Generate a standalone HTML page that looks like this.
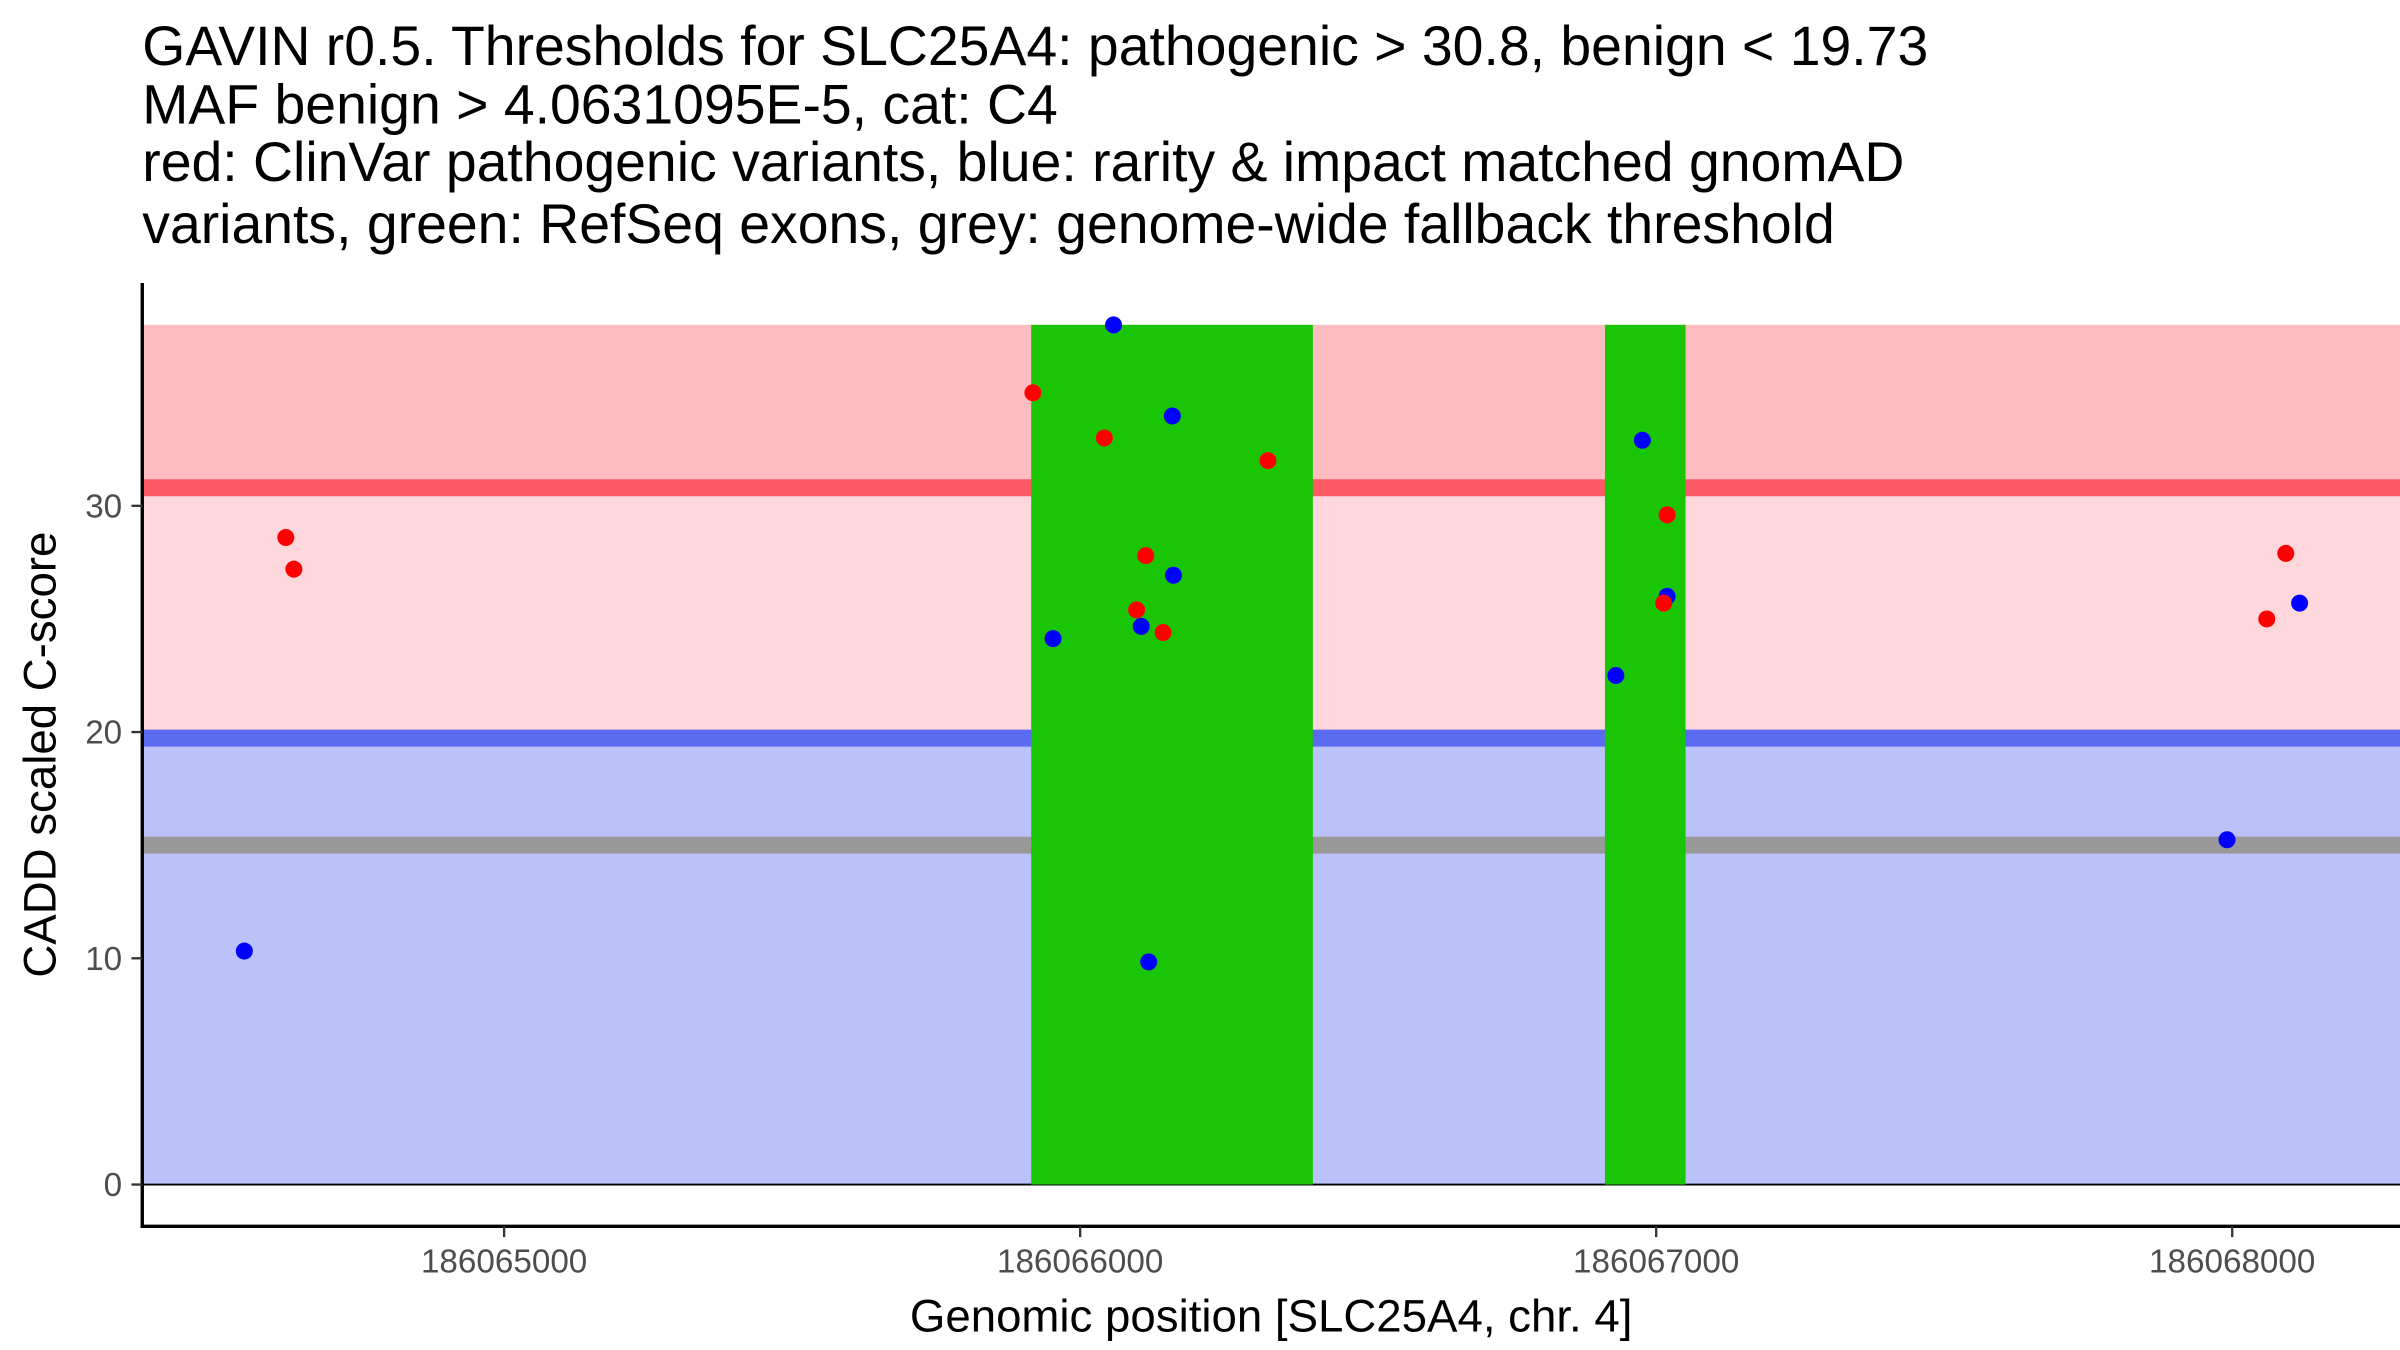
<!DOCTYPE html>
<html><head><meta charset="utf-8"><style>
html,body{margin:0;padding:0;background:#fff}
svg{display:block}
text{font-family:"Liberation Sans",Arial,sans-serif}
</style></head><body>
<svg id="chart" width="2400" height="1350" viewBox="0 0 1552 873" xmlns="http://www.w3.org/2000/svg">
<g font-size="35.8" fill="#000">
<text x="92" y="42">GAVIN r0.5. Thresholds for SLC25A4: pathogenic &gt; 30.8, benign &lt; 19.73</text>
<text x="92" y="80">MAF benign &gt; 4.0631095E-5, cat: C4</text>
<text x="92" y="117">red: ClinVar pathogenic variants, blue: rarity &amp; impact matched gnomAD</text>
<text x="92" y="157">variants, green: RefSeq exons, grey: genome-wide fallback threshold</text>
</g>
<g id="plot"></g>
<text x="822" y="861" font-size="29.5" text-anchor="middle">Genomic position [SLC25A4, chr. 4]</text>
<text transform="translate(36,488) rotate(-90)" font-size="29.5" text-anchor="middle">CADD scaled C-score</text>
</svg>
<script>
const yTicks=[0,10,20,30];
const xTicks=[186065000,186066000,186067000,186068000];
const pathoThr=30.8, benignThr=19.73, fallbackThr=15, yMax=38;
const exonStarts=[186065915,186066911];
const exonEnds=[186066404,186067051];
const benignPos=[186064549,186066058,186066160,186066162,186065953,186066106,186066119,186066976,186067019,186066930,186067991,186068117];
const benignScore=[10.32,38.0,33.97,26.93,24.13,24.67,9.84,32.9,26.0,22.5,15.24,25.7];
const pathoPos=[186064621,186064635,186065918,186066042,186066326,186066114,186066098,186066144,186067019,186067013,186068060,186068093];
const pathoScore=[28.6,27.2,35.0,33.0,32.0,27.8,25.4,24.4,29.6,25.7,25.0,27.9];

const NS='http://www.w3.org/2000/svg';
const L=92,R=1552,AX=793;
const X=v=>326+(v-186065000)*0.3725;
const Y=v=>766-v*14.63;
const g=document.getElementById('plot');
function mk(tag,attrs){const e=document.createElementNS(NS,tag);for(const k in attrs)e.setAttribute(k,attrs[k]);g.appendChild(e);return e;}

let e;
e=mk('rect',{x:L,y:Y(benignThr),width:R-L,height:Y(0)-Y(benignThr),fill:'#bbc1f9'});


e=mk('rect',{x:L,y:Y(pathoThr),width:R-L,height:Y(benignThr)-Y(pathoThr),fill:'#fdd7db'});


e=mk('rect',{x:L,y:Y(yMax),width:R-L,height:Y(pathoThr)-Y(yMax),fill:'#fdbcc0'});


e=mk('line',{x1:L,x2:R,y1:Y(pathoThr),y2:Y(pathoThr),stroke:'#fd5a68','stroke-width':11});


e=mk('line',{x1:L,x2:R,y1:Y(benignThr),y2:Y(benignThr),stroke:'#5a6bf2','stroke-width':11});


e=mk('line',{x1:L,x2:R,y1:Y(fallbackThr),y2:Y(fallbackThr),stroke:'#999999','stroke-width':11});


e=mk('line',{x1:L,x2:R,y1:Y(0),y2:Y(0),stroke:'#000','stroke-width':1.2});


for(let i=0;i<exonStarts.length;i++){
  e=mk('rect',{x:X(exonStarts[i]),y:Y(yMax),width:X(exonEnds[i])-X(exonStarts[i]),height:Y(0)-Y(yMax),fill:'#19c505'});
  
  
}
for(let i=0;i<benignPos.length;i++){
  e=mk('circle',{cx:X(benignPos[i]),cy:Y(benignScore[i]),r:5.5,fill:'#0000ff'});
  
  
}
for(let i=0;i<pathoPos.length;i++){
  e=mk('circle',{cx:X(pathoPos[i]),cy:Y(pathoScore[i]),r:5.5,fill:'#ff0000'});
  
  
}
e=mk('line',{x1:L,x2:L,y1:183,y2:AX+1,stroke:'#000','stroke-width':2.2});


e=mk('line',{x1:L-1,x2:R,y1:AX,y2:AX,stroke:'#000','stroke-width':2.2});


yTicks.forEach(t=>{
  e=mk('line',{x1:L-7,x2:L,y1:Y(t),y2:Y(t),stroke:'#333','stroke-width':1.5});
  
  
  e=mk('text',{x:L-13,y:Y(t)+7.5,'font-size':21.5,fill:'#4d4d4d','text-anchor':'end'});
  e.textContent=t;
  
  
});
xTicks.forEach(t=>{
  e=mk('line',{x1:X(t),x2:X(t),y1:AX,y2:AX+7,stroke:'#333','stroke-width':1.5});
  
  
  e=mk('text',{x:X(t),y:AX+30,'font-size':21.5,fill:'#4d4d4d','text-anchor':'middle'});
  e.textContent=t;
  
  
});
</script>
</body></html>
